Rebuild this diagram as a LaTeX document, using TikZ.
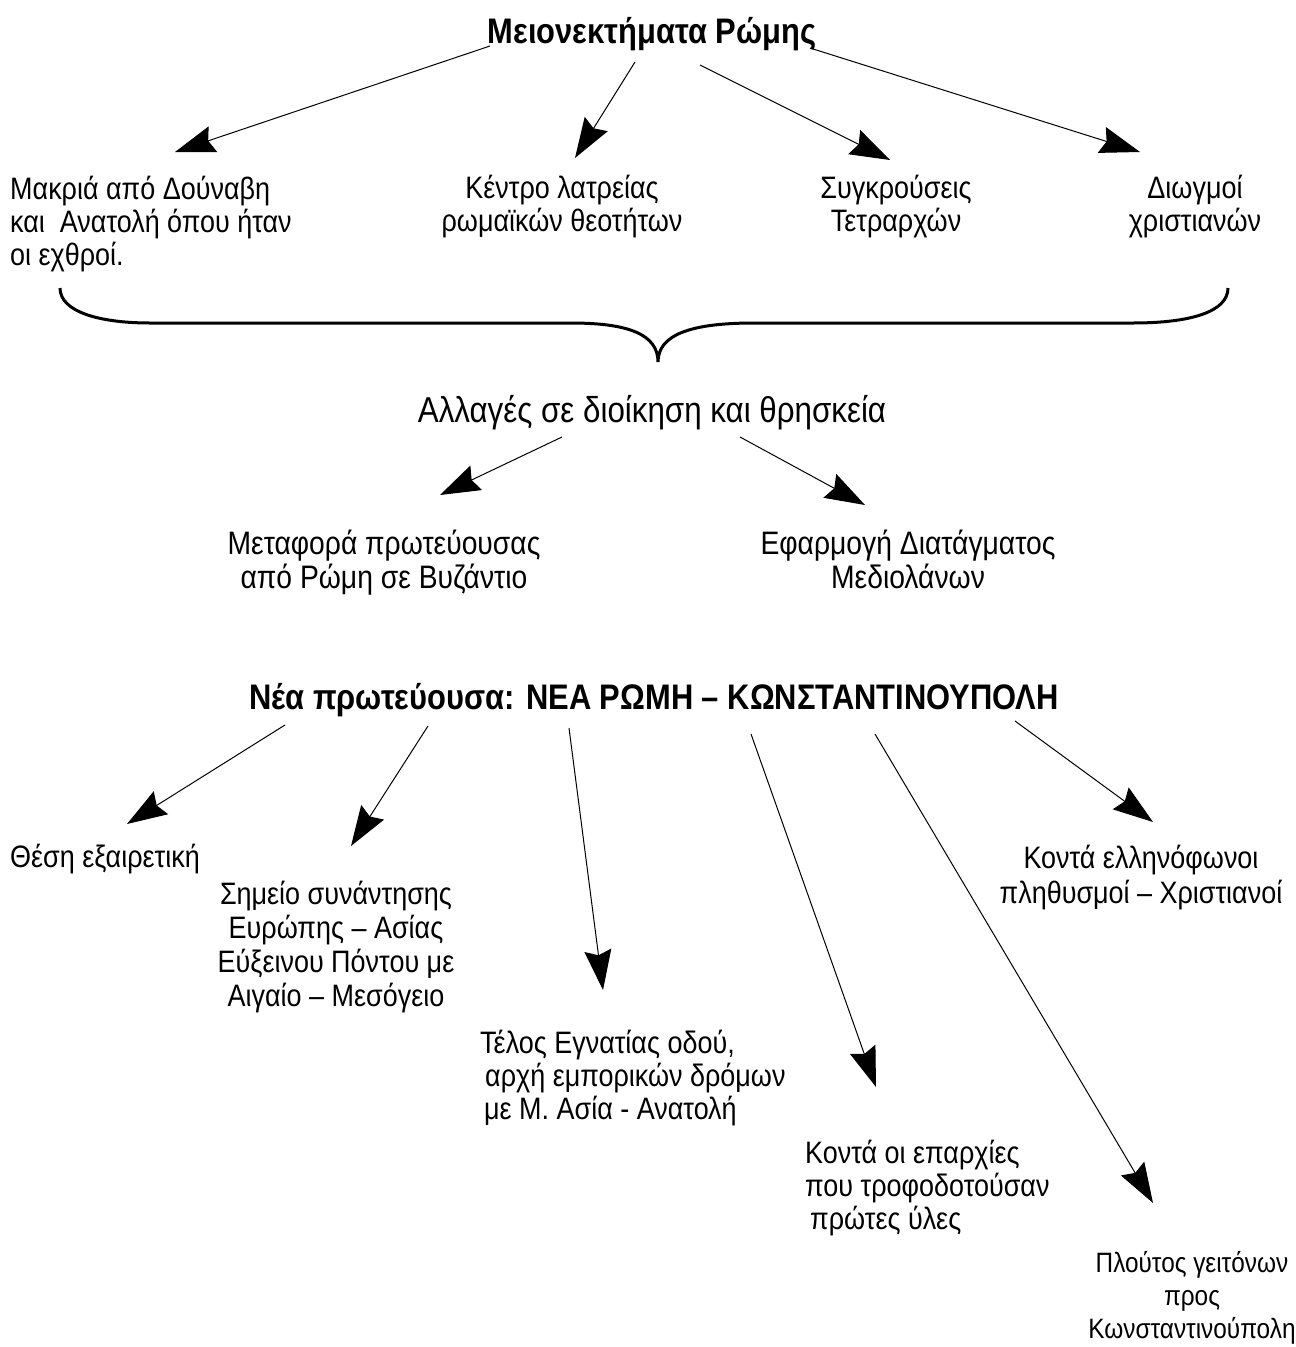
\documentclass[tikz,border=0pt]{standalone}
\usepackage{fontspec}
\setmainfont{Liberation Sans}[FakeStretch=0.87]
\usepackage{tikz}
\usetikzlibrary{arrows.meta,positioning}
\tikzset{
        txt/.style = {inner sep=0pt,
            font=\fontsize{31}{33}\selectfont},
        head/.style = {inner sep=0pt,
            font=\fontsize{35.5}{40}\selectfont\bfseries},
        arrow/.style={draw, -{Stealth[length=40pt,width=27pt,inset=5pt]}, line width=1pt},
        brace/.style = {draw, line width=3pt},
    }

\begin{document}
\begin{tikzpicture}[x=1pt,y=-1pt]
        \useasboundingbox (0,0) rectangle (1296,1347);

        % top part
        \node[head, anchor=base] (rome) at (652,43) {Μειονεκτήματα Ρώμης};
        \node[txt, align=left, anchor=base west] (far) at (10,265)
            {Μακριά από Δούναβη\\και~ Ανατολή όπου ήταν\\οι εχθροί.};
        \node[txt, align=center, anchor=base] (cult) at (562,231)
            {Κέντρο λατρείας\\ρωμαϊκών θεοτήτων};
        \node[txt, align=center, anchor=base] (clash) at (896,231)
            {Συγκρούσεις\\Τετραρχών};
        \node[txt, align=center, anchor=base] (persec) at (1195,231)
            {Διωγμοί\\χριστιανών};

        \coordinate (r1) at (490,46);  \coordinate (far1) at (175,152);
        \coordinate (r2) at (635,62);  \coordinate (cult1) at (575,158);
        \coordinate (r3) at (700,65);  \coordinate (clash1) at (890,160);
        \coordinate (r4) at (810,48);  \coordinate (persec1) at (1140,152);
        \draw[arrow] (r1) -- (far1);
        \draw[arrow] (r2) -- (cult1);
        \draw[arrow] (r3) -- (clash1);
        \draw[arrow] (r4) -- (persec1);

        % brace
        \draw[brace] (60,288) .. controls (60,312) and (100,323) .. (150,323) -- (571,323)
            .. controls (630,323) and (658,335) .. (658,362)
            .. controls (658,335) and (690,323) .. (754,323) -- (1133,323)
            .. controls (1190,323) and (1228,312) .. (1228,288);

        % middle part
        \node[txt, font=\fontsize{36}{40}\selectfont, anchor=base] (change) at (652,422)
            {Αλλαγές σε διοίκηση και θρησκεία};
        \node[txt, font=\fontsize{32.5}{34}\selectfont, align=center, anchor=base] (move) at (384,588)
            {Μεταφορά πρωτεύουσας\\από Ρώμη σε Βυζάντιο};
        \node[txt, font=\fontsize{32.5}{34}\selectfont, align=center, anchor=base] (edict) at (908,588)
            {Εφαρμογή Διατάγματος\\Μεδιολάνων};

        \coordinate (c1) at (562,437); \coordinate (move1) at (440,495);
        \coordinate (c2) at (740,437); \coordinate (edict1) at (865,505);
        \draw[arrow] (c1) -- (move1);
        \draw[arrow] (c2) -- (edict1);

        % bottom part
        \node[head, anchor=base] (newrome) at (654,709)
            {Νέα πρωτεύουσα: ΝΕΑ ΡΩΜΗ – ΚΩΝΣΤΑΝΤΙΝΟΥΠΟΛΗ};
        \node[txt, anchor=base west] (pos) at (10,867) {Θέση εξαιρετική};
        \node[txt, font=\fontsize{31}{34}\selectfont, align=center, anchor=base] (meet) at (336,1006)
            {Σημείο συνάντησης\\Ευρώπης – Ασίας\\Εύξεινου Πόντου με\\Αιγαίο – Μεσόγειο};
        \node[txt, align=left, anchor=base west] (road) at (480,1119)
            {Τέλος Εγνατίας οδού,\\\hspace*{5pt}αρχή εμπορικών δρόμων\\\hspace*{4pt}με Μ. Ασία - Ανατολή};
        \node[txt, align=left, anchor=base west] (prov) at (805,1229)
            {Κοντά οι επαρχίες\\που τροφοδοτούσαν\\\hspace*{5pt}πρώτες ύλες};
        \node[txt, font=\fontsize{28}{33}\selectfont, align=center, anchor=base] (wealth) at (1192,1338)
            {Πλούτος γειτόνων\\προς\\Κωνσταντινούπολη};
        \node[txt, font=\fontsize{31}{35}\selectfont, align=center, anchor=base] (greek) at (1141,903)
            {Κοντά ελληνόφωνοι\\πληθυσμοί – Χριστιανοί};

        \coordinate (n1) at (285,725);  \coordinate (pos1) at (127,824);
        \coordinate (n2) at (428,726);  \coordinate (meet1) at (351,846);
        \coordinate (n3) at (569,728);  \coordinate (road1) at (603,990);
        \coordinate (n4) at (751,734);  \coordinate (prov1) at (876,1087);
        \coordinate (n5) at (875,734);  \coordinate (wealth1) at (1153,1203);
        \coordinate (n6) at (1015,721); \coordinate (greek1) at (1153,822);
        \draw[arrow] (n1) -- (pos1);
        \draw[arrow] (n2) -- (meet1);
        \draw[arrow] (n3) -- (road1);
        \draw[arrow] (n4) -- (prov1);
        \draw[arrow] (n5) -- (wealth1);
        \draw[arrow] (n6) -- (greek1);
\end{tikzpicture}
\end{document}
